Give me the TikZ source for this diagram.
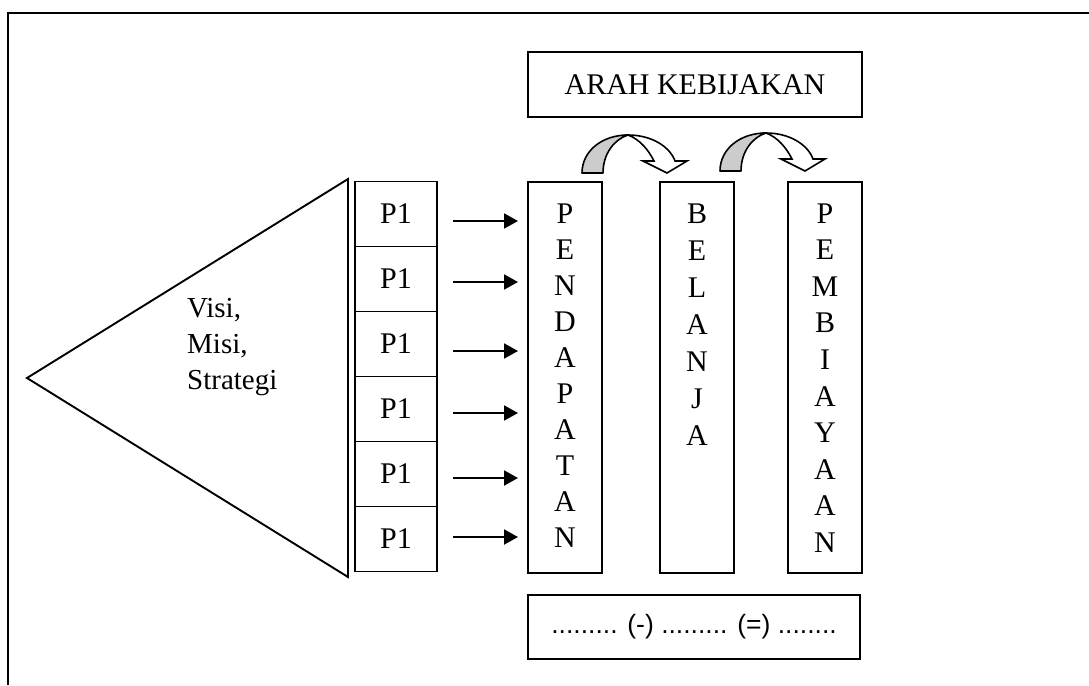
\documentclass[tikz,border=0pt]{standalone}
\usepackage{fontspec}
\setmainfont{Liberation Serif}
\newfontfamily\arialf{Liberation Sans}
\usetikzlibrary{arrows.meta}
\tikzset{
  frameline/.style={line width=2pt},
  shapeline/.style={line width=1.9pt},
  pbox/.style={draw, line width=1.9pt, inner sep=0pt, minimum width=82pt, minimum height=65pt,
    font=\fontsize{30}{34}\selectfont},
  colbox/.style={draw, line width=1.9pt, inner sep=0pt, minimum width=74pt, minimum height=391pt},
  colletter/.style={inner sep=0pt, anchor=base, font=\fontsize{30}{36}\selectfont},
  topbox/.style={draw, line width=1.9pt, inner sep=0pt, minimum width=334pt, minimum height=65pt,
    font=\fontsize{30}{34}\selectfont},
  botbox/.style={draw, line width=1.9pt, inner sep=0pt, minimum width=332pt, minimum height=64pt,
    font=\arialf\fontsize{26.5}{32}\selectfont},
  parr/.style={line width=2pt, -{Triangle[length=14pt,width=15pt]}},
  curvearrow/.pic={
    \filldraw[fill=gray!40, line width=1.6pt, line join=round]
      (0,0) .. controls (0,-22) and (20,-38) .. (46,-38)
      .. controls (33,-34) and (21,-20) .. (21,0) -- cycle;
    \filldraw[fill=white, line width=1.6pt, line join=miter]
      (46,-38) .. controls (70,-38) and (88,-26) .. (93,-12)
      -- (105,-12) -- (85,0) -- (61,-12) -- (72,-12)
      .. controls (66,-24) and (57,-34) .. (46,-38) -- cycle;
  }
}
\begin{document}
\begin{tikzpicture}[x=1pt,y=-1pt]
\useasboundingbox (0,0) rectangle (1089,685);
% outer frame
\coordinate (fbl) at (8,685);
\coordinate (ftl) at (8,13);
\coordinate (ftr) at (1089,13);
\draw[frameline] (fbl) -- (ftl) -- (ftr);
% triangle
\coordinate (apex) at (27,378);
\coordinate (ttop) at (348,179);
\coordinate (tbot) at (348,577);
\draw[shapeline, line join=miter] (ttop) -- (apex) -- (tbot) -- cycle;
\node[inner sep=0pt, anchor=north west, align=left, font=\fontsize{29}{36}\selectfont]
  (vms) at (187,298) {Visi,\\Misi,\\Strategi};
% P1 boxes
\foreach \i in {1,...,6}
  \node[pbox] (p\i) at (396,{214+65*(\i-1)}) {P1};
% arrows
\foreach \i/\y in {1/221,2/282,3/351,4/413,5/478,6/537} {
  \coordinate (s\i) at (453,\y);
  \coordinate (t\i) at (518,\y);
  \draw[parr] (s\i) -- (t\i);
}
% columns
\node[colbox] (colP) at (565,377.5) {};
\node[colbox] (colB) at (697,377.5) {};
\node[colbox] (colM) at (825,377.5) {};
\foreach \l [count=\i] in {P,E,N,D,A,P,A,T,A,N}
  \node[colletter] (lp\i) at (565,{223+36.1*(\i-1)}) {\l};
\foreach \l [count=\i] in {B,E,L,A,N,J,A}
  \node[colletter] (lb\i) at (697,{223+37*(\i-1)}) {\l};
\foreach \l [count=\i] in {P,E,M,B,I,A,Y,A,A,N}
  \node[colletter] (lm\i) at (825,{223+36.6*(\i-1)}) {\l};
% top box
\node[topbox] (arah) at (695,84.5) {ARAH KEBIJAKAN};
% curved arrows
\pic (ca1) at (582,173) {curvearrow};
\pic (ca2) at (720,171) {curvearrow};
% bottom box
\node[botbox] (calc) at (694,627) {......... (-) ......... (=) ........};
\end{tikzpicture}
\end{document}
